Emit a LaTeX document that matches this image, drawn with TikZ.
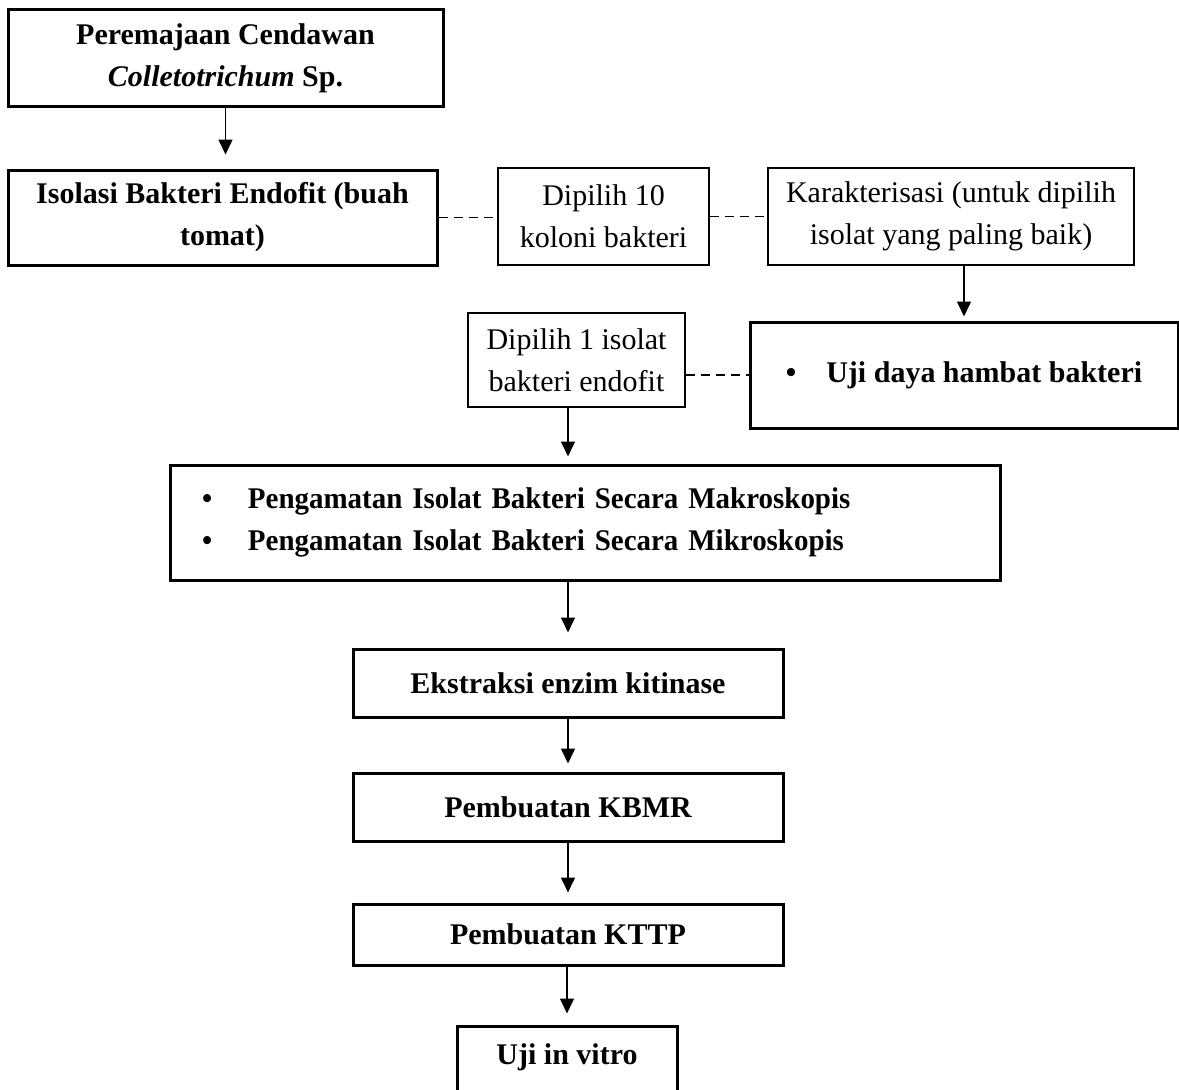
\documentclass[tikz,border=0pt]{standalone}
\usepackage{fontspec}
\setmainfont{Liberation Serif}
\usetikzlibrary{arrows.meta}
\usetikzlibrary{positioning}

\tikzset{
  thickbox/.style={draw, line width=3pt, align=center, inner sep=0pt,
    font=\fontsize{30}{42}\selectfont\bfseries},
  thinbox/.style={draw, line width=1.3pt, align=center, inner sep=0pt,
    font=\fontsize{30}{42}\selectfont},
  dashlink/.style={line width=1.3pt, dash pattern=on 9pt off 6pt},
  flowarrow/.style={->, line width=1.5pt, shorten >=10pt},
}

\begin{document}
\begin{tikzpicture}[x=1pt,y=-1pt,>={Triangle[width=14pt,length=15pt]}]
\useasboundingbox (0,0) rectangle (1179,1090);
\clip (0,0) rectangle (1179,1090);
% main column
\node[thickbox, minimum width=435, minimum height=97] (per) at (225.5,58) {Peremajaan Cendawan\\\textit{Colletotrichum} Sp.};
\node[thickbox, minimum width=429, minimum height=95] (iso) at (222.5,217.5) {Isolasi Bakteri Endofit (buah\\tomat)};
\node[thinbox, minimum width=211, minimum height=97] (dip10) at (603.5,216.5) {Dipilih 10\\koloni bakteri};
\node[thinbox, minimum width=366, minimum height=97] (kar) at (951,216.5) {Karakterisasi (untuk dipilih\\isolat yang paling baik)};
\node[thickbox, minimum width=428, minimum height=106] (uji) at (964,375) {\textbullet\hspace{30pt}Uji daya hambat bakteri};
\node[thinbox, minimum width=217, minimum height=94] (dip1) at (576.5,360) {Dipilih 1 isolat\\bakteri endofit};
\node[thickbox, align=left, text width=766, inner xsep=32pt, minimum height=115] (amat) at (585,522.5)
  {\addfontfeature{FakeStretch=0.965}\makebox[46pt][l]{\textbullet}Pengamatan Isolat Bakteri Secara Makroskopis\\
   \makebox[46pt][l]{\textbullet}Pengamatan Isolat Bakteri Secara Mikroskopis};
\node[thickbox, minimum width=430, minimum height=68] (eks) at (568,683) {Ekstraksi enzim kitinase};
\node[thickbox, minimum width=430, minimum height=68] (kbmr) at (568,807) {Pembuatan KBMR};
\node[thickbox, minimum width=430, minimum height=61] (kttp) at (568,934.5) {Pembuatan KTTP};
\node[thickbox, minimum width=220, minimum height=70] (vitro) at (567,1061) {};
\node[font=\fontsize{30}{42}\selectfont\bfseries] (vitrolbl) at (567,1057) {Uji in vitro};

% arrows
\draw[flowarrow, shorten >=14pt] (per.south) -- (per.south |- iso.north);
\draw[flowarrow, shorten >=4pt] (uji.north |- kar.south) -- (uji.north);
\draw[flowarrow, shorten >=7pt] (dip1.south -| eks.north) -- (amat.north -| eks.north);
\draw[flowarrow, shorten >=15pt] (amat.south -| eks.north) -- (eks.north);
\draw[flowarrow, shorten >=8pt] (eks.south) -- (kbmr.north);
\draw[flowarrow] (kbmr.south) -- (kttp.north);
\draw[flowarrow, shorten >=11pt] (kttp.south -| vitro.north) -- (vitro.north);

% dashed links
\draw[dashlink] (iso.east) -- (iso.east -| dip10.west);
\draw[dashlink] (dip10.east) -- (kar.west);
\draw[dashlink] (uji.west -| dip1.east) -- (uji.west);
\end{tikzpicture}
\end{document}
